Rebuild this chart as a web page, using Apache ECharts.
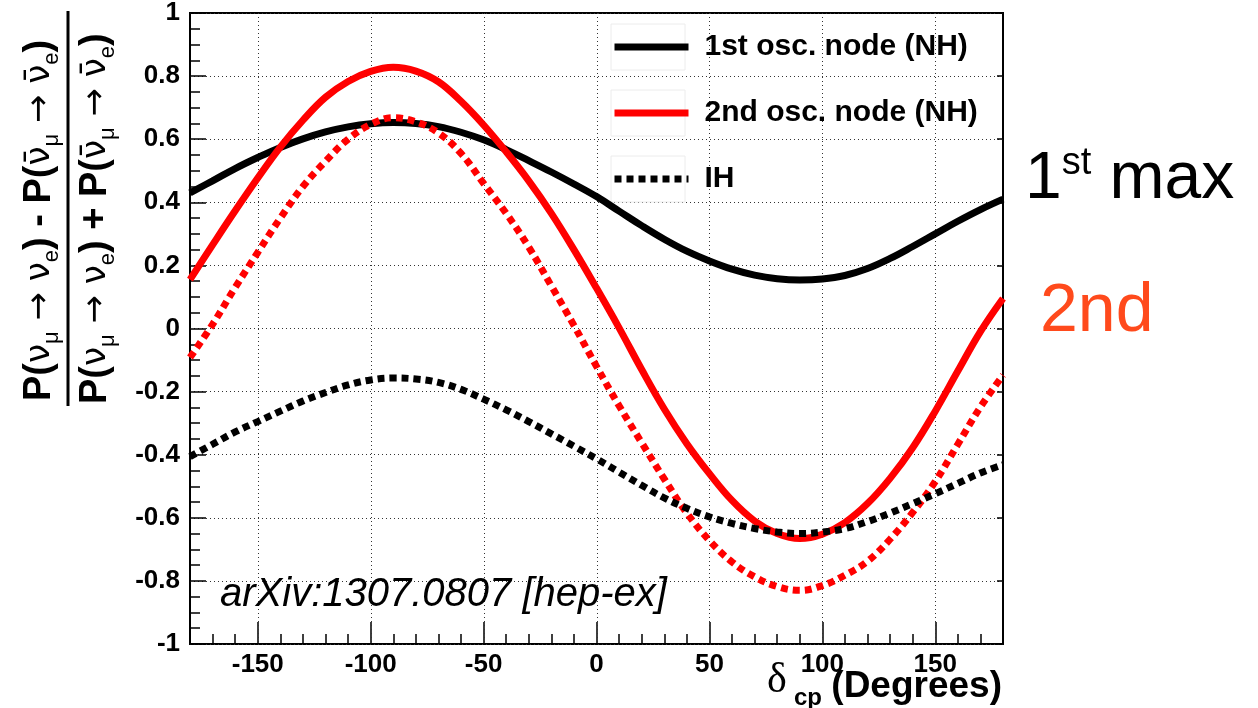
<!DOCTYPE html>
<html><head><meta charset="utf-8">
<script src="https://cdn.jsdelivr.net/npm/echarts@6/dist/echarts.min.js"></script>
<style>html,body{margin:0;padding:0;background:#fff}#c{width:1258px;height:708px}</style>
</head><body><div id="c"></div>
<script>
// delta_CP in degrees
const deltaCP = [-180,-170,-160,-150,-140,-130,-120,-110,-100,-90,-80,-70,-60,-50,-40,-30,-20,-10,0,10,20,30,40,50,60,70,80,90,100,110,120,130,140,150,160,170,180];
// 1st osc. node (NH) - black solid
const firstNodeNH = [0.43,0.468,0.507,0.542,0.574,0.601,0.623,0.639,0.649,0.653,0.65,0.64,0.622,0.598,0.567,0.532,0.496,0.458,0.418,0.372,0.326,0.283,0.245,0.214,0.188,0.169,0.158,0.154,0.157,0.168,0.19,0.222,0.26,0.3,0.34,0.377,0.41];
// 2nd osc. node (NH) - red solid
const secondNodeNH = [0.155,0.265,0.373,0.477,0.575,0.66,0.733,0.783,0.815,0.828,0.816,0.782,0.72,0.645,0.56,0.468,0.365,0.25,0.128,0.002,-0.13,-0.255,-0.365,-0.46,-0.545,-0.61,-0.65,-0.666,-0.652,-0.615,-0.555,-0.475,-0.378,-0.262,-0.135,-0.01,0.095];
// 1st osc. node (IH) - black dotted
const firstNodeIH = [-0.406,-0.367,-0.328,-0.295,-0.262,-0.23,-0.203,-0.179,-0.163,-0.157,-0.16,-0.171,-0.193,-0.224,-0.258,-0.295,-0.334,-0.373,-0.413,-0.455,-0.497,-0.537,-0.57,-0.597,-0.618,-0.634,-0.645,-0.65,-0.645,-0.634,-0.612,-0.585,-0.555,-0.524,-0.491,-0.458,-0.432];
// 2nd osc. node (IH) - red dotted
const secondNodeIH = [-0.092,0.013,0.13,0.241,0.35,0.45,0.53,0.6,0.647,0.668,0.655,0.62,0.555,0.46,0.365,0.258,0.135,0.01,-0.12,-0.245,-0.362,-0.477,-0.585,-0.672,-0.74,-0.787,-0.818,-0.83,-0.815,-0.782,-0.738,-0.668,-0.583,-0.485,-0.367,-0.249,-0.148];
// tick labels
const xMajorTicks = [-150,-100,-50,0,50,100,150];
const legendNames = ['1st osc. node (NH)','2nd osc. node (NH)','IH'];

const F = '"Liberation Sans", Arial, Helvetica, sans-serif';
const chart = echarts.init(document.getElementById('c'), null, {renderer:'canvas'});
function pairs(ys){ return deltaCP.map((d,i)=>[d, ys[i]]); }
const dotted = [7,5];
const gridDots = {type:[1,3], color:'#333', width:1};
const Y_MIN = -1, Y_MAX = 1;

const option = {
  animation:false,
  backgroundColor:'#fff',
  grid:{left:190,right:255,top:10,bottom:64,show:true,borderColor:'#000',borderWidth:2,backgroundColor:'transparent'},
  legend:{
    data:legendNames, orient:'vertical', left:611, top:32, padding:0,
    itemWidth:74, itemHeight:30, itemGap:36,
    itemStyle:{opacity:0},
    lineStyle:{width:7,cap:'butt'},
    textStyle:{fontFamily:F,fontWeight:'bold',fontSize:30,color:'#000',lineHeight:30,padding:[0,0,0,11]}
  },
  xAxis:[
    {type:'value',min:-180,max:180,interval:10,position:'bottom',
     axisLine:{show:false,onZero:false},
     axisTick:{inside:true,length:10,lineStyle:{color:'#000',width:1.5}},
     axisLabel:{show:false}, splitLine:{show:false}},
    {type:'value',min:-180,max:180,position:'bottom',
     axisLine:{show:false,onZero:false},
     axisTick:{inside:true,length:22,customValues:xMajorTicks,lineStyle:{color:'#000',width:1.5}},
     axisLabel:{customValues:xMajorTicks,margin:8,color:'#000',fontFamily:F,fontWeight:'bold',fontSize:26},
     splitLine:{show:false}}
  ],
  yAxis:[
    {type:'value',min:Y_MIN,max:Y_MAX,interval:0.2,position:'left',
     axisLine:{show:false,onZero:false},
     axisTick:{inside:true,length:16,lineStyle:{color:'#000',width:1.5}},
     minorTick:{show:true,splitNumber:4,length:10,lineStyle:{color:'#000',width:1.5}},
     axisLabel:{margin:10,color:'#000',fontFamily:F,fontWeight:'bold',fontSize:26,
       formatter:v=>String(+(+v).toFixed(2))},
     splitLine:{show:true,lineStyle:gridDots}},
    {type:'value',min:Y_MIN,max:Y_MAX,interval:0.2,position:'right',
     axisLine:{show:false,onZero:false},
     axisTick:{inside:true,length:6,lineStyle:{color:'#000',width:1.5}},
     axisLabel:{show:false}, splitLine:{show:false}}
  ],
  series:[
    {name:'xgrid',type:'custom',silent:true,z:1,clip:false,
     data:xMajorTicks.map(v=>[v]),
     encode:{x:0},
     renderItem:function(params, api){
       const v = api.value(0);
       const p1 = api.coord([v, Y_MAX]);
       const p2 = api.coord([v, Y_MIN]);
       const x = Math.round(p1[0]) + 0.5;
       return {type:'line',shape:{x1:x,y1:Math.round(p1[1]),x2:x,y2:Math.round(p2[1])},
               style:{stroke:'#333',lineWidth:1,lineDash:[1,3],fill:null}};
     }},
    {name:'1st osc. node (NH)',type:'line',data:pairs(firstNodeNH),smooth:0.4,symbol:'none',
     lineStyle:{color:'#000',width:7,cap:'butt'},itemStyle:{color:'#000'},z:2},
    {name:'2nd osc. node (NH)',type:'line',data:pairs(secondNodeNH),smooth:0.4,symbol:'none',
     lineStyle:{color:'#ff0000',width:7,cap:'butt'},itemStyle:{color:'#ff0000'},z:3},
    {name:'2nd osc. node (IH)',type:'line',data:pairs(secondNodeIH),smooth:0.4,symbol:'none',
     lineStyle:{color:'#ff0000',width:7,type:dotted,cap:'butt'},itemStyle:{color:'#ff0000'},z:4},
    {name:'IH',type:'line',data:pairs(firstNodeIH),smooth:0.4,symbol:'none',
     lineStyle:{color:'#000',width:7,type:dotted,cap:'butt'},itemStyle:{color:'#000'},z:5}
  ],
  graphic:[
    {type:'rect',shape:{x:611,y:24,width:74,height:46},style:{fill:'none',stroke:'#ececec',lineWidth:1},z:1},
    {type:'rect',shape:{x:611,y:90,width:74,height:46},style:{fill:'none',stroke:'#ececec',lineWidth:1},z:1},
    {type:'rect',shape:{x:611,y:156,width:74,height:46},style:{fill:'none',stroke:'#ececec',lineWidth:1},z:1},
    {type:'text',x:40,y:401,rotation:Math.PI/2,z:10,style:{
      text:'{b|P(}{n|ν}{s|μ}{n| → ν}{s|e}{b|) - P(}{n|ν\u0304}{s|μ}{n| → ν\u0304}{s|e}{b|)}',
      align:'left',verticalAlign:'middle',fill:'#000',
      rich:{
        b:{fontFamily:F,fontWeight:'bold',fontSize:38,lineHeight:46,fill:'#000'},
        n:{fontFamily:'"DejaVu Sans", sans-serif',fontSize:34,lineHeight:46,fill:'#000'},
        s:{fontFamily:F,fontSize:22,lineHeight:22,verticalAlign:'bottom',fill:'#000'}
      }}},
    {type:'line',shape:{x1:68,y1:11,x2:68,y2:406},style:{stroke:'#000',lineWidth:3},z:10},
    {type:'text',x:96,y:404,rotation:Math.PI/2,z:10,style:{
      text:'{b|P(}{n|ν}{s|μ}{n| → ν}{s|e}{b|) + P(}{n|ν\u0304}{s|μ}{n| → ν\u0304}{s|e}{b|)}',
      align:'left',verticalAlign:'middle',fill:'#000',
      rich:{
        b:{fontFamily:F,fontWeight:'bold',fontSize:38,lineHeight:46,fill:'#000'},
        n:{fontFamily:'"DejaVu Sans", sans-serif',fontSize:34,lineHeight:46,fill:'#000'},
        s:{fontFamily:F,fontSize:22,lineHeight:22,verticalAlign:'bottom',fill:'#000'}
      }}},
    {type:'text',x:767,y:681,z:10,style:{text:'δ',fontFamily:'"Liberation Serif", serif',fontSize:42,fill:'#000',align:'left',verticalAlign:'middle'}},
    {type:'text',x:794,y:698,z:10,style:{text:'cp',fontFamily:F,fontWeight:'bold',fontSize:24,fill:'#000',align:'left',verticalAlign:'middle'}},
    {type:'text',x:1002,y:687,z:10,style:{text:'(Degrees)',fontFamily:F,fontWeight:'bold',fontSize:37,fill:'#000',align:'right',verticalAlign:'middle'}},
    {type:'text',x:220,y:595,z:10,style:{text:'arXiv:1307.0807 [hep-ex]',fontFamily:F,fontStyle:'italic',fontSize:40,fill:'#000',align:'left',verticalAlign:'middle'}},
    {type:'text',x:1025,y:180,z:10,style:{text:'{a|1}{u|st}{a| max}',align:'left',verticalAlign:'middle',
      rich:{a:{fontFamily:F,fontSize:66,lineHeight:70,fill:'#000'},u:{fontFamily:F,fontSize:38,lineHeight:44,verticalAlign:'top',fill:'#000'}}}},
    {type:'text',x:1040,y:312,z:10,style:{text:'2nd',fontFamily:F,fontSize:68,fill:'#ff4a1c',align:'left',verticalAlign:'middle'}}
  ]
};
chart.setOption(option);
</script></body></html>
